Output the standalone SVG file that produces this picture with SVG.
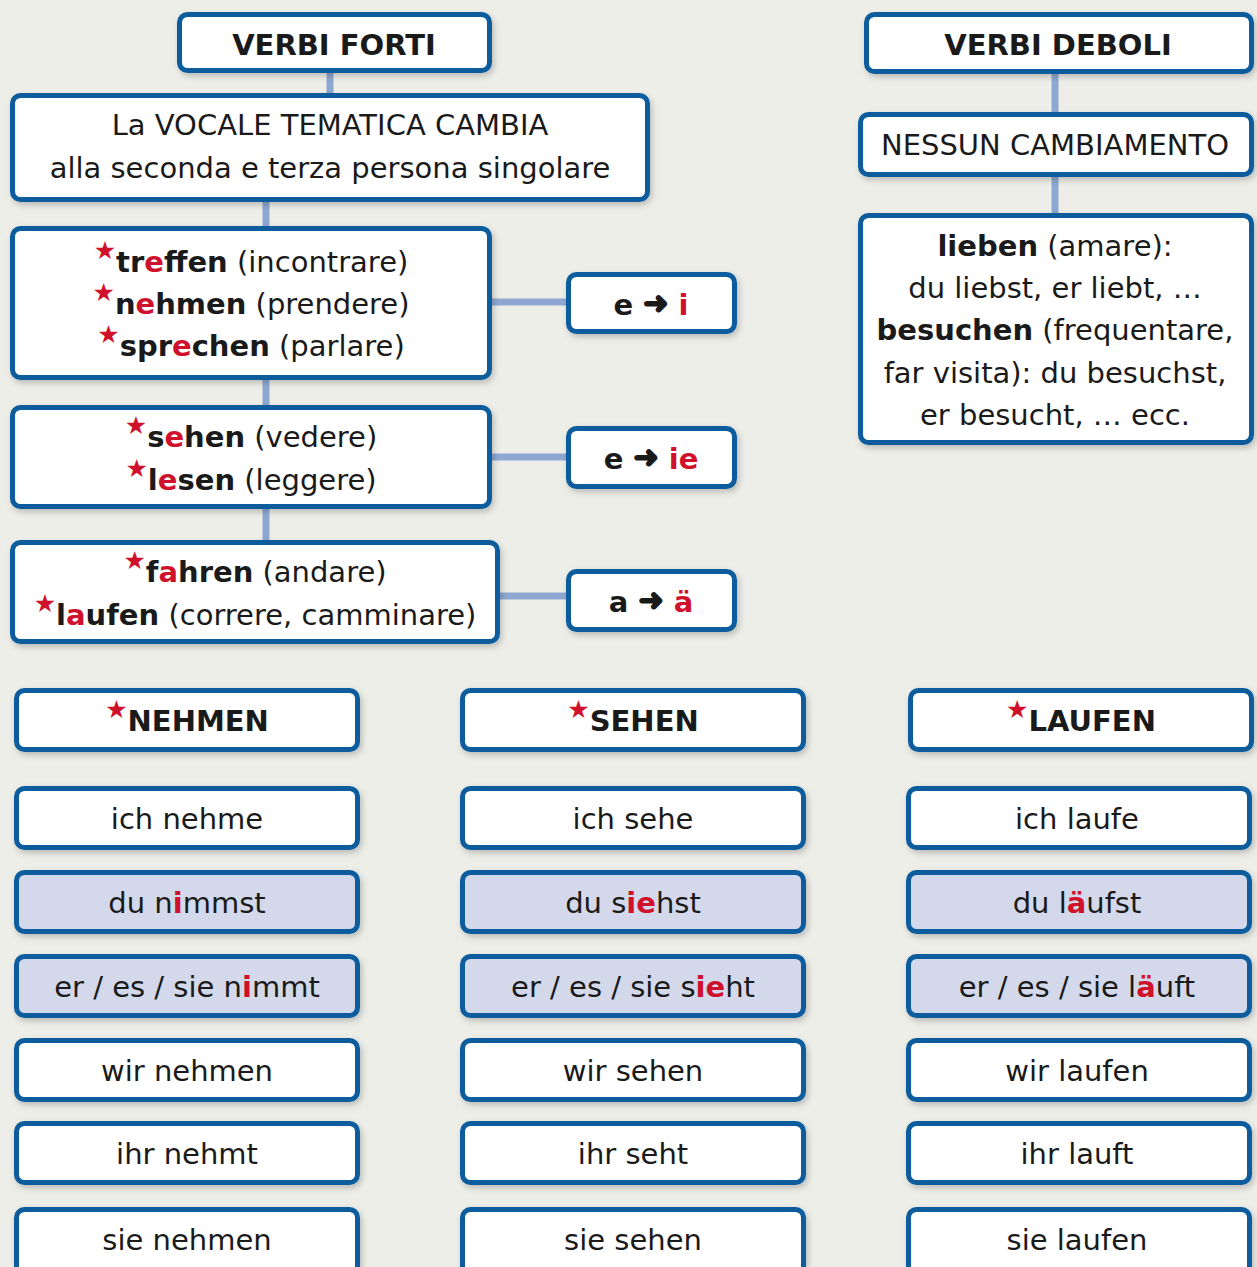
<svg xmlns="http://www.w3.org/2000/svg" width="1257" height="1267" viewBox="0 0 1257 1267">
<defs>
<filter id="sh" x="-10%" y="-20%" width="120%" height="150%">
<feDropShadow dx="2" dy="3" stdDeviation="3" flood-color="#000" flood-opacity="0.22"/>
</filter>
</defs>
<style>
.box{fill:#fff;stroke:#0a5d9e;stroke-width:5;filter:url(#sh)}
.hl{fill:#d3d9eb}
.t{font-family:"DejaVu Sans",Verdana,sans-serif;font-size:29px;fill:#1a1a1a;text-anchor:middle}
.b{font-weight:bold}
.r{fill:#d0112b}
.st{fill:#d0112b;font-size:25px;font-weight:normal}
.ar{font-size:30px;font-weight:bold;stroke:#1a1a1a;stroke-width:2;stroke-linejoin:round}
.con{stroke:#8fa8d2;stroke-width:7;fill:none}
</style>
<rect width="1257" height="1267" fill="#eeeee9"/>
<g id="connectors">
<line class="con" x1="330" y1="72" x2="330" y2="96"/>
<line class="con" x1="266" y1="200" x2="266" y2="228"/>
<line class="con" x1="266" y1="378" x2="266" y2="407"/>
<line class="con" x1="266" y1="507" x2="266" y2="542"/>
<line class="con" x1="490" y1="302" x2="569" y2="302"/>
<line class="con" x1="490" y1="457" x2="569" y2="457"/>
<line class="con" x1="498" y1="596" x2="569" y2="596"/>
<line class="con" x1="1055" y1="72" x2="1055" y2="114"/>
<line class="con" x1="1055" y1="175" x2="1055" y2="215"/>
</g>
<g id="verbi-forti"><rect class="box" x="179.5" y="14.5" width="310" height="56" rx="8"/><text class="t b" x="334" y="55" font-size="31">VERBI FORTI</text></g>
<g id="vocale"><rect class="box" x="12.5" y="95.5" width="635" height="104" rx="8"/>
<text class="t" x="330" y="135" font-size="29.5">La VOCALE TEMATICA CAMBIA</text>
<text class="t" x="330" y="178">alla seconda e terza persona singolare</text></g>
<g id="gruppo-e-i"><rect class="box" x="12.5" y="228.5" width="477" height="149" rx="8"/>
<text class="t" x="251" y="272"><tspan class="st" dy="-13">★</tspan><tspan class="b" dy="13">tr<tspan class="r">e</tspan>ffen</tspan> (incontrare)</text>
<text class="t" x="251" y="314"><tspan class="st" dy="-13">★</tspan><tspan class="b" dy="13">n<tspan class="r">e</tspan>hmen</tspan> (prendere)</text>
<text class="t" x="251" y="356"><tspan class="st" dy="-13">★</tspan><tspan class="b" dy="13">spr<tspan class="r">e</tspan>chen</tspan> (parlare)</text></g>
<g id="gruppo-e-ie"><rect class="box" x="12.5" y="407.5" width="477" height="99" rx="8"/>
<text class="t" x="251" y="447"><tspan class="st" dy="-13">★</tspan><tspan class="b" dy="13">s<tspan class="r">e</tspan>hen</tspan> (vedere)</text>
<text class="t" x="251" y="490"><tspan class="st" dy="-13">★</tspan><tspan class="b" dy="13">l<tspan class="r">e</tspan>sen</tspan> (leggere)</text></g>
<g id="gruppo-a-ae"><rect class="box" x="12.5" y="542.5" width="485" height="99" rx="8"/>
<text class="t" x="255" y="582"><tspan class="st" dy="-13">★</tspan><tspan class="b" dy="13">f<tspan class="r">a</tspan>hren</tspan> (andare)</text>
<text class="t" x="255" y="625"><tspan class="st" dy="-13">★</tspan><tspan class="b" dy="13">l<tspan class="r">a</tspan>ufen</tspan> (correre, camminare)</text></g>
<g id="e-i"><rect class="box" x="568.5" y="274.5" width="166" height="57" rx="8"/><text class="t b" x="651" y="315">e <tspan class="ar" dy="-2">➜</tspan> <tspan class="r" dy="2">i</tspan></text></g>
<g id="e-ie"><rect class="box" x="568.5" y="428.5" width="166" height="58" rx="8"/><text class="t b" x="651" y="469">e <tspan class="ar" dy="-2">➜</tspan> <tspan class="r" dy="2">ie</tspan></text></g>
<g id="a-ae"><rect class="box" x="568.5" y="571.5" width="166" height="58" rx="8"/><text class="t b" x="651" y="612">a <tspan class="ar" dy="-2">➜</tspan> <tspan class="r" dy="2">ä</tspan></text></g>
<g id="verbi-deboli"><rect class="box" x="866.5" y="14.5" width="385" height="57" rx="8"/><text class="t b" x="1058" y="55" font-size="31">VERBI DEBOLI</text></g>
<g id="nessun"><rect class="box" x="860.5" y="114.5" width="391" height="60" rx="8"/><text class="t" x="1055" y="155">NESSUN CAMBIAMENTO</text></g>
<g id="esempi-deboli"><rect class="box" x="860.5" y="215.5" width="391" height="227" rx="8"/>
<text class="t" x="1055" y="256"><tspan class="b">lieben</tspan> (amare):</text>
<text class="t" x="1055" y="298">du liebst, er liebt, …</text>
<text class="t" x="1055" y="340"><tspan class="b">besuchen</tspan> (frequentare,</text>
<text class="t" x="1055" y="383">far visita): du besuchst,</text>
<text class="t" x="1055" y="425">er besucht, … ecc.</text></g>
<g id="h-nehmen"><rect class="box" x="16.5" y="690.5" width="341" height="59" rx="8"/><text class="t b" x="187" y="731"><tspan class="st" dy="-13">★</tspan><tspan dy="13">NEHMEN</tspan></text></g>
<g id="h-sehen"><rect class="box" x="462.5" y="690.5" width="341" height="59" rx="8"/><text class="t b" x="633" y="731"><tspan class="st" dy="-13">★</tspan><tspan dy="13">SEHEN</tspan></text></g>
<g id="h-laufen"><rect class="box" x="910.5" y="690.5" width="341" height="59" rx="8"/><text class="t b" x="1081" y="731"><tspan class="st" dy="-13">★</tspan><tspan dy="13">LAUFEN</tspan></text></g>
<g id="n1"><rect class="box" x="16.5" y="788.5" width="341" height="59" rx="8"/><text class="t" x="187" y="829">ich nehme</text></g>
<g id="n2"><rect class="box hl" x="16.5" y="872.5" width="341" height="59" rx="8"/><text class="t" x="187" y="913">du n<tspan class="r b">i</tspan>mmst</text></g>
<g id="n3"><rect class="box hl" x="16.5" y="956.5" width="341" height="59" rx="8"/><text class="t" x="187" y="997">er / es / sie n<tspan class="r b">i</tspan>mmt</text></g>
<g id="n4"><rect class="box" x="16.5" y="1040.5" width="341" height="59" rx="8"/><text class="t" x="187" y="1081">wir nehmen</text></g>
<g id="n5"><rect class="box" x="16.5" y="1123.5" width="341" height="59" rx="8"/><text class="t" x="187" y="1164">ihr nehmt</text></g>
<g id="n6"><rect class="box" x="16.5" y="1209.5" width="341" height="65" rx="8"/><text class="t" x="187" y="1250">sie nehmen</text></g>
<g id="s1"><rect class="box" x="462.5" y="788.5" width="341" height="59" rx="8"/><text class="t" x="633" y="829">ich sehe</text></g>
<g id="s2"><rect class="box hl" x="462.5" y="872.5" width="341" height="59" rx="8"/><text class="t" x="633" y="913">du s<tspan class="r b">ie</tspan>hst</text></g>
<g id="s3"><rect class="box hl" x="462.5" y="956.5" width="341" height="59" rx="8"/><text class="t" x="633" y="997">er / es / sie s<tspan class="r b">ie</tspan>ht</text></g>
<g id="s4"><rect class="box" x="462.5" y="1040.5" width="341" height="59" rx="8"/><text class="t" x="633" y="1081">wir sehen</text></g>
<g id="s5"><rect class="box" x="462.5" y="1123.5" width="341" height="59" rx="8"/><text class="t" x="633" y="1164">ihr seht</text></g>
<g id="s6"><rect class="box" x="462.5" y="1209.5" width="341" height="65" rx="8"/><text class="t" x="633" y="1250">sie sehen</text></g>
<g id="l1"><rect class="box" x="908.5" y="788.5" width="341" height="59" rx="8"/><text class="t" x="1077" y="829">ich laufe</text></g>
<g id="l2"><rect class="box hl" x="908.5" y="872.5" width="341" height="59" rx="8"/><text class="t" x="1077" y="913">du l<tspan class="r b">ä</tspan>ufst</text></g>
<g id="l3"><rect class="box hl" x="908.5" y="956.5" width="341" height="59" rx="8"/><text class="t" x="1077" y="997">er / es / sie l<tspan class="r b">ä</tspan>uft</text></g>
<g id="l4"><rect class="box" x="908.5" y="1040.5" width="341" height="59" rx="8"/><text class="t" x="1077" y="1081">wir laufen</text></g>
<g id="l5"><rect class="box" x="908.5" y="1123.5" width="341" height="59" rx="8"/><text class="t" x="1077" y="1164">ihr lauft</text></g>
<g id="l6"><rect class="box" x="908.5" y="1209.5" width="341" height="65" rx="8"/><text class="t" x="1077" y="1250">sie laufen</text></g>
</svg>
